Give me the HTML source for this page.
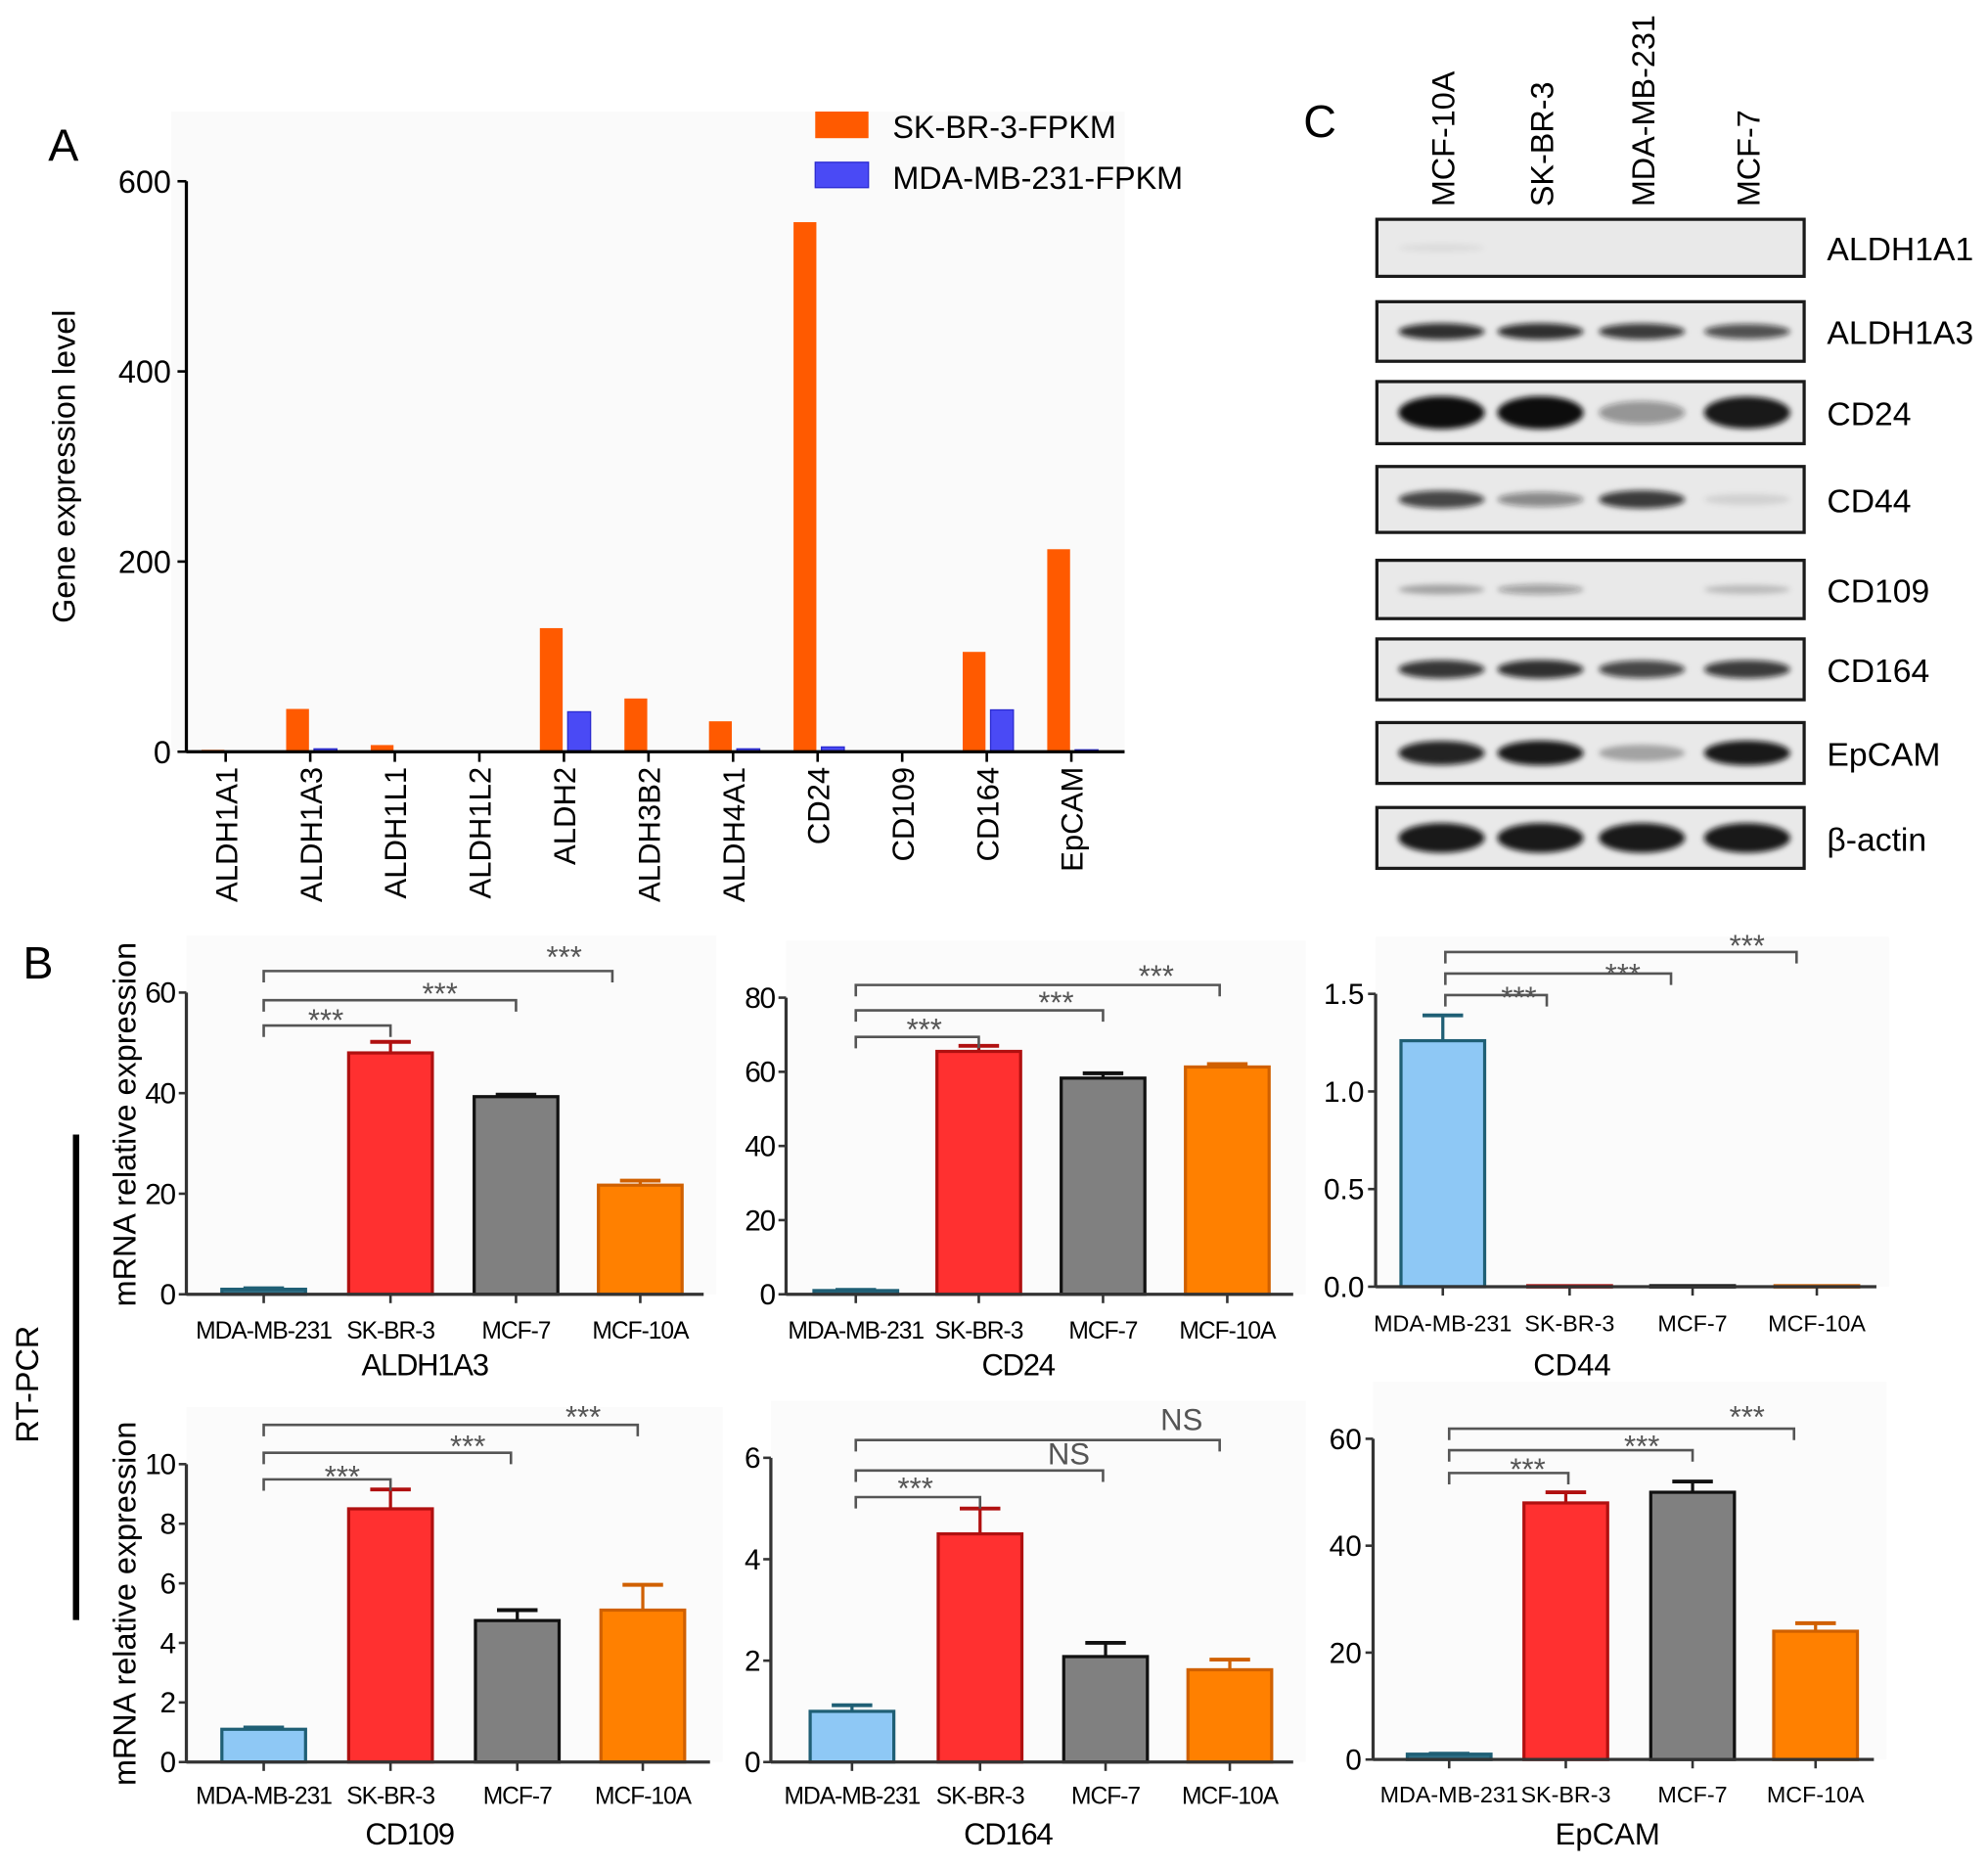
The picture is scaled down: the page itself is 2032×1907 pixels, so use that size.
<!DOCTYPE html>
<html><head><meta charset="utf-8">
<style>
html,body{margin:0;padding:0;background:#fff;}
svg{display:block;font-family:"Liberation Sans",sans-serif;}
</style></head>
<body>
<svg id="fig" width="2032" height="1907" viewBox="0 0 1568 1472" preserveAspectRatio="none" xmlns="http://www.w3.org/2000/svg">
<defs><filter id="blur" x="-20%" y="-100%" width="140%" height="300%"><feGaussianBlur stdDeviation="2.2"/></filter></defs>
<rect x="0" y="0" width="1568" height="1472" fill="#fff"/>
<g id="panelA"></g>
<g id="panelC"></g>
<g id="panelB"></g>
</svg>
<script>
// ---------- Panel A data ----------
const genesA = ["ALDH1A1","ALDH1A3","ALDH1L1","ALDH1L2","ALDH2","ALDH3B2","ALDH4A1","CD24","CD109","CD164","EpCAM"];
const skbr3Fpkm = [2,45,7,0,130,56,32,557,0,105,213];
const mda231Fpkm = [0,3,0,0,42,0,3,5,0,44,2];
const ticksA = [0,200,400,600];

// ---------- Panel B data ----------
const cellLines = ["MDA-MB-231","SK-BR-3","MCF-7","MCF-10A"];
const aldh1a3Mean = [1,48,39.3,21.7];
const aldh1a3Err = [0.2,2.2,0.4,0.9];
const cd24Mean = [1,65.5,58.3,61.3];
const cd24Err = [0.2,1.5,1.3,0.8];
const cd44Mean = [1.26,0.005,0.005,0.005];
const cd44Err = [0.13,0,0,0];
const cd109Mean = [1.1,8.5,4.75,5.1];
const cd109Err = [0.06,0.65,0.35,0.85];
const cd164Mean = [1.0,4.5,2.08,1.82];
const cd164Err = [0.12,0.5,0.27,0.2];
const epcamMean = [1,48,50,24];
const epcamErr = [0.1,2,2,1.5];
const ticksAldh1a3 = [0,20,40,60];
const ticksCd24 = [0,20,40,60,80];
const ticksCd44 = [0,0.5,1.0,1.5];
const ticksCd109 = [0,2,4,6,8,10];
const ticksCd164 = [0,2,4,6];
const ticksEpcam = [0,20,40,60];

// ---------- Panel C data ----------
const blotProteins = ["ALDH1A1","ALDH1A3","CD24","CD44","CD109","CD164","EpCAM","β-actin"];
const blotLanes = ["MCF-10A","SK-BR-3","MDA-MB-231","MCF-7"];
const bandAldh1a1 = [0.06,0,0,0];
const bandAldh1a3 = [0.85,0.85,0.8,0.7];
const bandCd24 = [1,1,0.4,0.95];
const bandCd44 = [0.75,0.45,0.8,0.1];
const bandCd109 = [0.3,0.35,0,0.2];
const bandCd164 = [0.82,0.85,0.75,0.8];
const bandEpcam = [0.9,0.95,0.3,0.95];
const bandActin = [0.95,0.95,0.95,0.95];

const NS="http://www.w3.org/2000/svg";
function mk(tag,attrs,parent,text){const e=document.createElementNS(NS,tag);for(const k in attrs)e.setAttribute(k,attrs[k]);if(text!==undefined)e.textContent=text;parent.appendChild(e);return e;}

// ===== Panel A =====
(function(){
  const g=document.getElementById('panelA');
  const x0=147,x1=887,yTop=143,yBot=593,max=600;
  const y=v=>yBot-(v/max)*(yBot-yTop);
  const step=66.7, first=178;
  const xc=i=>first+i*step;
  const bg=mk('rect',{x:135,y:88,width:752,height:505,fill:'#fafafa'},g);
  
  
  const lab=mk('text',{x:38,y:127,'font-size':36},g,'A');
  
  
  genesA.forEach((gn,i)=>{
    const ob=mk('rect',{x:xc(i)-19,y:y(skbr3Fpkm[i]),width:18,height:yBot-y(skbr3Fpkm[i]),fill:'#ff5a00'},g);
    
    
    const bb=mk('rect',{x:xc(i)+3,y:y(mda231Fpkm[i]),width:18,height:yBot-y(mda231Fpkm[i]),fill:'#4a4af5',stroke:'#2a2ad0','stroke-width':1},g);
    
    
    mk('line',{x1:xc(i),x2:xc(i),y1:yBot,y2:yBot+8,stroke:'#000','stroke-width':2},g);
    const t=mk('text',{x:0,y:0,'font-size':24,'text-anchor':'end',transform:`translate(${xc(i)+9},${yBot+12}) rotate(-90)`},g,gn);
    
    
  });
  mk('line',{x1:x0,x2:x0,y1:yTop,y2:yBot,stroke:'#000','stroke-width':2.5},g);
  mk('line',{x1:x0,x2:x1,y1:yBot,y2:yBot,stroke:'#000','stroke-width':2.5},g);
  ticksA.forEach(v=>{
    mk('line',{x1:x0-7,x2:x0,y1:y(v),y2:y(v),stroke:'#000','stroke-width':2},g);
    const t=mk('text',{x:x0-12,y:y(v)+9,'font-size':25,'text-anchor':'end'},g,String(v));
    
    
  });
  const yt=mk('text',{x:0,y:0,'font-size':25,'text-anchor':'middle',transform:'translate(59,368) rotate(-90)'},g,'Gene expression level');
  
  
  const l1=mk('rect',{x:643,y:88,width:42,height:21,fill:'#ff5a00'},g);
  
  
  const lt1=mk('text',{x:704,y:109,'font-size':25},g,'SK-BR-3-FPKM');
  
  
  const l2=mk('rect',{x:643,y:128,width:42,height:20,fill:'#4a4af5',stroke:'#2a2ad0'},g);
  
  
  const lt2=mk('text',{x:704,y:149,'font-size':25},g,'MDA-MB-231-FPKM');
  
  
})();

// ===== Panel C =====
(function(){
  const g=document.getElementById('panelC');
  const c=mk('text',{x:1028,y:108,'font-size':36},g,'C');
  
  
  const laneX=[1137,1215,1295,1378];
  blotLanes.forEach((ln,i)=>{
    const t=mk('text',{x:0,y:0,'font-size':25,transform:`translate(${laneX[i]+10},163) rotate(-90)`},g,ln);
    
    
  });
  const rowsY=[[173,218],[238,285],[301,350],[368,420],[442,488],[504,552],[570,618],[637,685]];
  const bands=[bandAldh1a1,bandAldh1a3,bandCd24,bandCd44,bandCd109,bandCd164,bandEpcam,bandActin];
  const thick=[6,7,13,8,6,8,10,12];
  blotProteins.forEach((p,r)=>{
    const [a,b]=rowsY[r];
    const box=mk('rect',{x:1086,y:a,width:337,height:b-a,fill:'#e9e9e9',stroke:'#1a1a1a','stroke-width':2.5},g);
    
    
    const mid=(a+b)/2;
    bands[r].forEach((v,i)=>{
      if(v<=0)return;
      const e=mk('ellipse',{cx:laneX[i],cy:mid,rx:34,ry:thick[r]*(0.5+v*0.5),fill:'#111','fill-opacity':v,filter:'url(#blur)'},g);
      
      
    });
    const t=mk('text',{x:1441,y:mid+10,'font-size':26},g,p);
    
    
  });
})();

// ===== Panel B =====
const fillCols=[null,'#ff3030','#808080','#ff8000'];
const strokeCols=['#1f5f75','#b01010','#111','#d06000'];
function barChart(cfg){
  const g=mk('g',{},document.getElementById('panelB'));
  
  
  const {ax,axEnd,yTop,yBot,max,centers,mean,err,ticks,title,labelY,titleY,titleX,cond,mdaFill,brackets,tickFmt}=cfg;
  const y=v=>yBot-(v/max)*(yBot-yTop);
  mk('rect',{x:ax,y:yTop-45,width:axEnd-ax+10,height:yBot-yTop+45,fill:'#fbfbfb'},g);
  mean.forEach((m,i)=>{
    const w=66, fc=i===0?mdaFill:fillCols[i];
    const r=mk('rect',{x:centers[i]-w/2,y:y(m),width:w,height:Math.max(yBot-y(m),1),fill:fc,stroke:strokeCols[i],'stroke-width':2.5},g);
    
    
    if(err[i]>0){
      mk('line',{x1:centers[i],x2:centers[i],y1:y(m),y2:y(m+err[i]),stroke:strokeCols[i],'stroke-width':2.5},g);
      mk('line',{x1:centers[i]-16,x2:centers[i]+16,y1:y(m+err[i]),y2:y(m+err[i]),stroke:strokeCols[i],'stroke-width':3},g);
    }
    mk('line',{x1:centers[i],x2:centers[i],y1:yBot,y2:yBot+7,stroke:'#333','stroke-width':2},g);
    const t=mk('text',{x:centers[i],y:labelY,'font-size':cond?19:18,'text-anchor':'middle','letter-spacing':cond?-0.8:0},g,cellLines[i]);
    
    
  });
  mk('line',{x1:ax,x2:ax,y1:yTop,y2:yBot,stroke:'#333','stroke-width':2.5},g);
  mk('line',{x1:ax,x2:axEnd,y1:yBot,y2:yBot,stroke:'#333','stroke-width':2.5},g);
  ticks.forEach(v=>{
    mk('line',{x1:ax-6,x2:ax,y1:y(v),y2:y(v),stroke:'#333','stroke-width':2},g);
    const t=mk('text',{x:ax-9,y:y(v)+8,'font-size':23,'text-anchor':'end','letter-spacing':cond?-1:0},g,tickFmt?v.toFixed(1):String(v));
    
    
  });
  const tt=mk('text',{x:titleX,y:titleY,'font-size':24,'text-anchor':'middle','letter-spacing':cond?-1:0},g,title);
  
  
  brackets.forEach(b=>{
    const [x1,x2,by,lx,ly,txt]=b;
    mk('path',{d:`M${x1},${by+9} V${by} H${x2} V${by+9}`,fill:'none',stroke:'#555','stroke-width':2},g);
    const t=mk('text',{x:lx,y:txt==='NS'?ly:ly+4,'font-size':txt==='NS'?24:24,'text-anchor':'middle',fill:'#555'},g,txt==='NS'?'NS':'***');
    
    
  });
}

(function(){
  const g=document.getElementById('panelB');
  const b=mk('text',{x:18,y:772,'font-size':36},g,'B');
  
  
  const l=mk('line',{x1:60,x2:60,y1:895,y2:1278,stroke:'#000','stroke-width':5},g);
  
  
  const rt=mk('text',{x:0,y:0,'font-size':25,'text-anchor':'middle',transform:'translate(30,1092) rotate(-90)'},g,'RT-PCR');
  
  
  [[887],[1265]].forEach(([cy])=>{
    const t=mk('text',{x:0,y:0,'font-size':25,'text-anchor':'middle',transform:`translate(107,${cy}) rotate(-90)`},g,'mRNA relative expression');
    
    
  });
})();

barChart({title:'ALDH1A3',ax:147,axEnd:555,yTop:783,yBot:1021,max:60,centers:[208,308,407,505],mean:aldh1a3Mean,err:aldh1a3Err,ticks:ticksAldh1a3,labelY:1056,titleY:1085,titleX:335,cond:true,mdaFill:'#2f6f86',
  brackets:[[208,308,809,257,809,'***'],[208,407,789,347,788,'***'],[208,483,766,445,759,'***']]});
barChart({title:'CD24',ax:620,axEnd:1020,yTop:787,yBot:1021,max:80,centers:[675,772,870,968],mean:cd24Mean,err:cd24Err,ticks:ticksCd24,labelY:1056,titleY:1085,titleX:803,cond:true,mdaFill:'#2f6f86',
  brackets:[[675,772,818,729,816,'***'],[675,870,797,833,795,'***'],[675,962,777,912,774,'***']]});
barChart({title:'CD44',ax:1085,axEnd:1480,yTop:784,yBot:1015,max:1.5,centers:[1138,1238,1335,1433],mean:cd44Mean,err:cd44Err,ticks:ticksCd44,labelY:1050,titleY:1085,titleX:1240,cond:false,mdaFill:'#8ec8f5',tickFmt:true,
  brackets:[[1140,1220,785,1198,791,'***'],[1140,1318,768,1280,773,'***'],[1140,1417,751,1378,750,'***']]});
barChart({title:'CD109',ax:147,axEnd:560,yTop:1155,yBot:1390,max:10,centers:[208,308,408,507],mean:cd109Mean,err:cd109Err,ticks:ticksCd109,labelY:1423,titleY:1455,titleX:323,cond:true,mdaFill:'#8ec8f5',
  brackets:[[208,308,1167,270,1169,'***'],[208,403,1146,369,1145,'***'],[208,503,1124,460,1122,'***']]});
barChart({title:'CD164',ax:608,axEnd:1020,yTop:1150,yBot:1390,max:6,centers:[672,773,872,970],mean:cd164Mean,err:cd164Err,ticks:ticksCd164,labelY:1423,titleY:1455,titleX:795,cond:true,mdaFill:'#8ec8f5',
  brackets:[[675,773,1181,722,1178,'***'],[675,870,1160,843,1155,'NS'],[675,962,1136,932,1128,'NS']]});
barChart({title:'EpCAM',ax:1083,axEnd:1478,yTop:1135,yBot:1388,max:60,centers:[1143,1235,1335,1432],mean:epcamMean,err:epcamErr,ticks:ticksEpcam,labelY:1422,titleY:1455,titleX:1268,cond:false,mdaFill:'#2f6f86',
  brackets:[[1143,1237,1162,1205,1163,'***'],[1143,1335,1144,1295,1145,'***'],[1143,1415,1127,1378,1122,'***']]});
</script>
</body></html>
